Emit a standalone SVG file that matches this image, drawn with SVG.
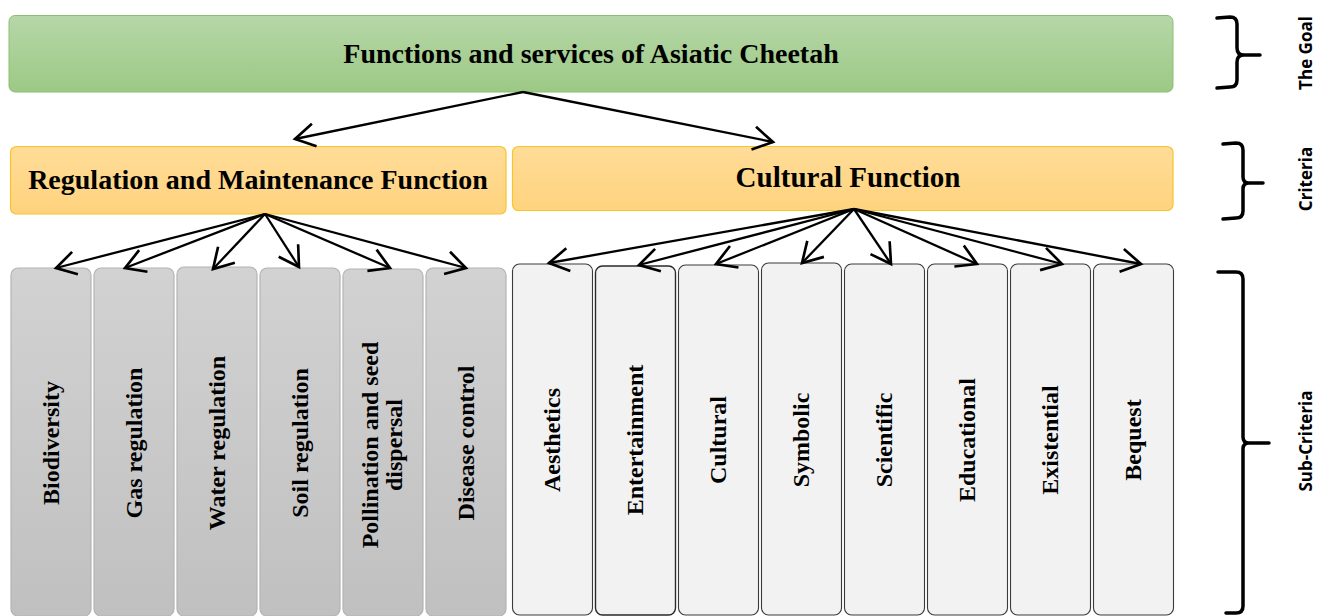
<svg xmlns="http://www.w3.org/2000/svg" width="1317" height="616" viewBox="0 0 1317 616">
<style>
.t{font-family:"Liberation Serif","Times New Roman",serif;font-weight:bold;fill:#000;text-anchor:middle}
.big{font-size:28px}
.sub{font-size:24px}
.lbl{font-family:"Open Sans","Liberation Sans",sans-serif;font-weight:bold;font-size:17px;text-anchor:middle;fill:#000}
.goal{fill:url(#gG);stroke:#8dbf72;stroke-width:1}
.crit{fill:url(#gY);stroke:#f7c52a;stroke-width:1.2}
.gray{fill:url(#gR);stroke:#b4b4b4;stroke-width:1.2}
.light{fill:#f2f2f2;stroke:#3a3a3a;stroke-width:1.1}
.c{stroke:#000;stroke-width:2.3;fill:none;marker-end:url(#ah)}
.br{stroke:#000;stroke-width:3.5;fill:none;stroke-linecap:round;stroke-linejoin:round}
</style>
<defs>
<linearGradient id="gG" x1="0" y1="0" x2="0" y2="1"><stop offset="0" stop-color="#b6d7a8"/><stop offset="1" stop-color="#9cc985"/></linearGradient>
<linearGradient id="gY" x1="0" y1="0" x2="0" y2="1"><stop offset="0" stop-color="#ffdc98"/><stop offset="1" stop-color="#ffd37e"/></linearGradient>
<linearGradient id="gR" x1="0" y1="0" x2="0" y2="1"><stop offset="0" stop-color="#d2d2d2"/><stop offset="1" stop-color="#c0c0c0"/></linearGradient>
<marker id="ah" markerUnits="userSpaceOnUse" markerWidth="30" markerHeight="30" refX="0" refY="0" viewBox="-20 -13 22 26" orient="auto" overflow="visible">
<path d="M-17,-10 L0,0 L-17,10" fill="none" stroke="#000" stroke-width="2.3" stroke-linejoin="miter"/>
</marker>
</defs>

<g id="goal">
<rect class="goal" x="9" y="15.5" width="1164" height="76.5" rx="6"/>
<text class="t big" x="591" y="63">Functions and services of Asiatic Cheetah</text>
</g>

<g id="regulation">
<rect class="crit" x="10.5" y="146.5" width="495.5" height="67.5" rx="6"/>
<text class="t big" x="258" y="189">Regulation and Maintenance Function</text>
</g>
<g id="cultural">
<rect class="crit" x="512.5" y="146.5" width="660.5" height="64" rx="6"/>
<text class="t" style="font-size:29px" x="848" y="187">Cultural Function</text>
</g>

<g id="biodiversity">
<rect class="gray" x="11" y="268" width="80" height="348" rx="7"/>
<text class="t sub" transform="translate(51,443) rotate(-90)" y="8">Biodiversity</text>
</g>
<g id="gas-regulation">
<rect class="gray" x="94" y="268" width="80" height="348" rx="7"/>
<text class="t sub" transform="translate(134,443) rotate(-90)" y="8">Gas regulation</text>
</g>
<g id="water-regulation">
<rect class="gray" x="177" y="267" width="80" height="349" rx="7"/>
<text class="t sub" transform="translate(217,443) rotate(-90)" y="8">Water regulation</text>
</g>
<g id="soil-regulation">
<rect class="gray" x="260" y="268" width="80" height="348" rx="7"/>
<text class="t sub" transform="translate(300,443) rotate(-90)" y="8">Soil regulation</text>
</g>
<g id="pollination">
<rect class="gray" x="343" y="269" width="80" height="347" rx="7"/>
<text class="t sub" transform="translate(383,445) rotate(-90)"><tspan x="0" y="-5">Pollination and seed</tspan><tspan x="0" y="19">dispersal</tspan></text>
</g>
<g id="disease-control">
<rect class="gray" x="426" y="268" width="80" height="348" rx="7"/>
<text class="t sub" transform="translate(466,443) rotate(-90)" y="8">Disease control</text>
</g>

<g id="aesthetics">
<rect class="light" x="512.5" y="264" width="80" height="351" rx="7"/>
<text class="t sub" transform="translate(552,440) rotate(-90)" y="8">Aesthetics</text>
</g>
<g id="entertainment">
<rect class="light" x="595.5" y="266" width="80" height="349" rx="7" style="stroke:#2a2a2a;stroke-width:1.4"/>
<text class="t sub" transform="translate(635,440) rotate(-90)" y="8">Entertainment</text>
</g>
<g id="cultural-sub">
<rect class="light" x="678.5" y="265" width="80" height="350" rx="7"/>
<text class="t sub" transform="translate(718,440) rotate(-90)" y="8">Cultural</text>
</g>
<g id="symbolic">
<rect class="light" x="761.5" y="263" width="80" height="352" rx="7"/>
<text class="t sub" transform="translate(801,440) rotate(-90)" y="8">Symbolic</text>
</g>
<g id="scientific">
<rect class="light" x="844.5" y="264" width="80" height="351" rx="7"/>
<text class="t sub" transform="translate(884,440) rotate(-90)" y="8">Scientific</text>
</g>
<g id="educational">
<rect class="light" x="927.5" y="264" width="80" height="351" rx="7"/>
<text class="t sub" transform="translate(967,440) rotate(-90)" y="8">Educational</text>
</g>
<g id="existential">
<rect class="light" x="1010.5" y="264" width="80" height="351" rx="7"/>
<text class="t sub" transform="translate(1050,440) rotate(-90)" y="8">Existential</text>
</g>
<g id="bequest">
<rect class="light" x="1093.5" y="264" width="80" height="351" rx="7"/>
<text class="t sub" transform="translate(1133,440) rotate(-90)" y="8">Bequest</text>
</g>

<g id="connectors">
<path class="c" d="M523,92 L295,139"/>
<path class="c" d="M523,92 L773,142"/>
<path class="c" d="M265,214 L56,268"/>
<path class="c" d="M265,214 L125,268"/>
<path class="c" d="M265,214 L213,269"/>
<path class="c" d="M265,214 L299,267"/>
<path class="c" d="M265,214 L390,268"/>
<path class="c" d="M265,214 L466,268"/>
<path class="c" d="M854,209 L549,263"/>
<path class="c" d="M854,209 L639,265"/>
<path class="c" d="M854,209 L716,264"/>
<path class="c" d="M854,209 L802,263"/>
<path class="c" d="M854,209 L891,264"/>
<path class="c" d="M854,209 L977,264"/>
<path class="c" d="M854,209 L1062,264"/>
<path class="c" d="M854,209 L1141,264"/>
</g>

<g id="brace-goal">
<path class="br" d="M1217,18 L1230,17 Q1237,17 1237,24 L1237,48 Q1237,55 1244,55 L1260,55 M1244,55 Q1237,55 1237,62 L1237,80 Q1237,87 1230,87 L1217,88"/>
<text class="lbl" transform="translate(1312,53) rotate(-90)">The Goal</text>
</g>
<g id="brace-criteria">
<path class="br" d="M1223,144 L1236,143 Q1243,143 1243,150 L1243,177 Q1243,183 1249,183 L1263,183 M1249,183 Q1243,183 1243,189 L1243,211 Q1243,218 1236,218 L1223,219"/>
<text class="lbl" transform="translate(1312,179) rotate(-90)">Criteria</text>
</g>
<g id="brace-sub">
<path class="br" d="M1218,272 L1236,272 Q1243,272 1243,279 L1243,437 Q1243,443 1249,443 L1269,443 M1249,443 Q1243,443 1243,449 L1243,606 Q1243,613 1236,613 L1226,613"/>
<text class="lbl" transform="translate(1312,441) rotate(-90)">Sub-Criteria</text>
</g>
</svg>
